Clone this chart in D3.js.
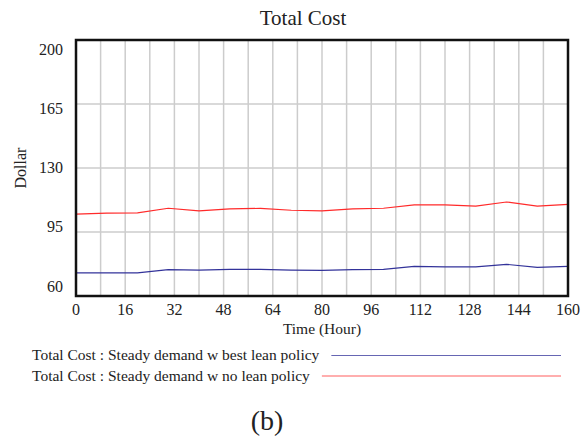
<!DOCTYPE html>
<html>
<head>
<meta charset="utf-8">
<script src="https://cdn.jsdelivr.net/npm/d3@7"></script>
<style>
  body { margin: 0; background: #fff; }
  text { font-family: "Liberation Serif", "Times New Roman", serif; fill: #222; }
</style>
</head>
<body>
<svg id="chart" width="588" height="437"></svg>
<script>
// time in hours
const hours = [0, 10, 20, 30, 40, 50, 60, 70, 80, 90, 100, 110, 120, 130, 140, 150, 160];
const bestLean = [72.7, 72.7, 72.7, 74.4, 74.1, 74.6, 74.6, 74.2, 74.0, 74.4, 74.6, 76.2, 75.9, 75.9, 77.3, 75.7, 76.2];
const noLean = [104.8, 105.3, 105.5, 108.0, 106.6, 107.7, 107.9, 106.9, 106.6, 107.6, 108.0, 109.8, 109.8, 109.1, 111.4, 109.2, 110.1];
const xTicks = [0, 16, 32, 48, 64, 80, 96, 112, 128, 144, 160];
const yTicks = [60, 95, 130, 165, 200];
const seriesNames = ['Total Cost : Steady demand w best lean policy', 'Total Cost : Steady demand w no lean policy'];
const seriesColors = ['#33339a', '#ff2a2a'];

const svg = d3.select('#chart');
const margin = { top: 40, right: 20, bottom: 141, left: 76 };
const width = 588 - margin.left - margin.right,
  height = 437 - margin.top - margin.bottom;

const x = d3.scaleLinear().domain([0, 160]).range([0, width]);
const y = d3.scaleLinear().domain([60, 200]).range([height, 0]);
// vensim puts its value labels a bit inside the frame
const yLab = d3.scaleLinear().domain([60, 200]).range([height - 10, 9]);

const g = svg.append('g')
  .attr('transform', 'translate(' + margin.left + ',' + margin.top + ')');

// grid
g.selectAll('.vgrid')
  .data(d3.range(8, 160, 8))
  .enter().append('line')
  .attr('x1', d => x(d)).attr('x2', d => x(d))
  .attr('y1', 0).attr('y2', height)
  .attr('stroke', '#cccccc').attr('stroke-width', 1.5);

g.selectAll('.hgrid')
  .data(yTicks.slice(1, -1))
  .enter().append('line')
  .attr('x1', 0).attr('x2', width)
  .attr('y1', d => y(d)).attr('y2', d => y(d))
  .attr('stroke', '#cccccc').attr('stroke-width', 1.5);

// series
const line = d3.line()
  .x((d, i) => x(hours[i]))
  .y(d => y(d));

[bestLean, noLean].forEach(function (vals, k) {
  g.append('path')
    .datum(vals)
    .attr('fill', 'none')
    .attr('stroke', seriesColors[k])
    .attr('stroke-width', 1.2)
    .attr('d', line);
});

// frame
g.append('rect')
  .attr('width', width).attr('height', height)
  .attr('fill', 'none')
  .attr('stroke', '#111').attr('stroke-width', 2.5);

// tick labels
g.selectAll('.xlab')
  .data(xTicks)
  .enter().append('text')
  .attr('x', d => x(d))
  .attr('y', height + 19)
  .attr('text-anchor', 'middle')
  .style('font-size', '16px')
  .text(d => d);

g.selectAll('.ylab')
  .data(yTicks)
  .enter().append('text')
  .attr('x', -13)
  .attr('y', d => yLab(d))
  .attr('dy', '0.35em')
  .attr('text-anchor', 'end')
  .style('font-size', '16px')
  .text(d => d);

// titles
svg.append('text')
  .attr('x', 303).attr('y', 25)
  .attr('text-anchor', 'middle')
  .style('font-size', '21px')
  .text('Total Cost');

svg.append('text')
  .attr('x', margin.left + width / 2).attr('y', 334)
  .attr('text-anchor', 'middle')
  .style('font-size', '15.5px')
  .text('Time (Hour)');

svg.append('text')
  .attr('transform', 'translate(26,168) rotate(-90)')
  .attr('text-anchor', 'middle')
  .style('font-size', '16px')
  .text('Dollar');

// legend
const legend = svg.selectAll('.legend')
  .data(seriesNames)
  .enter().append('g')
  .attr('transform', (d, i) => 'translate(32,' + (355.5 + i * 20.5) + ')');

legend.append('text')
  .attr('y', 0)
  .attr('dy', '0.32em')
  .style('font-size', '15.5px')
  .text(d => d);

legend.each(function (d, i) {
  const tw = this.querySelector('text').getComputedTextLength();
  d3.select(this).append('line')
    .attr('x1', tw + 12).attr('x2', 529)
    .attr('y1', 0).attr('y2', 0)
    .attr('stroke', seriesColors[i])
    .attr('stroke-opacity', 0.75)
    .attr('stroke-width', 1.2);
});

svg.append('text')
  .attr('x', 267).attr('y', 430)
  .attr('text-anchor', 'middle')
  .style('font-size', '28px')
  .text('(b)');
</script>
</body>
</html>
